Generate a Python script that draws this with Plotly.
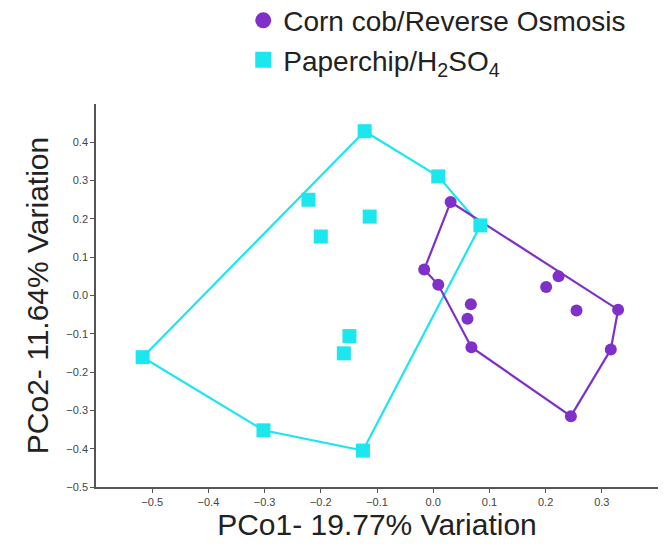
import plotly.graph_objects as go

# PCoA scores, Corn cob / Reverse Osmosis samples
corn_x = [0.031, -0.016, 0.009, 0.223, 0.201, 0.255, 0.329, 0.067, 0.061, 0.068, 0.316, 0.245]
corn_y = [0.244, 0.068, 0.028, 0.050, 0.022, -0.039, -0.037, -0.023, -0.061, -0.135, -0.141, -0.315]
# outline vertices (indices into the corn arrays), closed polygon
corn_outline = [0, 6, 10, 11, 9, 2, 1, 0]

# PCoA scores, Paperchip / H2SO4 samples
paper_x = [-0.517, -0.302, -0.125, -0.122, -0.222, -0.200, -0.113, -0.149, -0.159, 0.009, 0.084]
paper_y = [-0.161, -0.352, -0.405, 0.429, 0.250, 0.154, 0.206, -0.106, -0.151, 0.311, 0.183]
paper_outline = [3, 9, 10, 2, 1, 0, 3]

x_ticks = [-0.5, -0.4, -0.3, -0.2, -0.1, 0.0, 0.1, 0.2, 0.3]
y_ticks = [-0.5, -0.4, -0.3, -0.2, -0.1, 0.0, 0.1, 0.2, 0.3, 0.4]

corn_name = "Corn cob/Reverse Osmosis"
paper_name = "Paperchip/H<sub>2</sub>SO<sub>4</sub>"

PURPLE = "#7E30C8"
CYAN = "#1CE6EE"
FONT = "Liberation Sans, Arial, sans-serif"

fig = go.Figure()

# group outlines
fig.add_trace(go.Scatter(
    x=[paper_x[i] for i in paper_outline], y=[paper_y[i] for i in paper_outline],
    mode="lines", line=dict(color=CYAN, width=2.2), showlegend=False, hoverinfo="skip"))
fig.add_trace(go.Scatter(
    x=[corn_x[i] for i in corn_outline], y=[corn_y[i] for i in corn_outline],
    mode="lines", line=dict(color=PURPLE, width=2.2), showlegend=False, hoverinfo="skip"))

# sample points
fig.add_trace(go.Scatter(
    x=corn_x, y=corn_y, mode="markers", name=corn_name, showlegend=False,
    marker=dict(symbol="circle", size=12, color=PURPLE)))
fig.add_trace(go.Scatter(
    x=paper_x, y=paper_y, mode="markers", name=paper_name, showlegend=False,
    marker=dict(symbol="square", size=14, color=CYAN)))

# legend entries with larger symbols
fig.add_trace(go.Scatter(
    x=[None], y=[None], mode="markers", name=corn_name, legendgroup="a",
    marker=dict(symbol="circle", size=16, color=PURPLE)))
fig.add_trace(go.Scatter(
    x=[None], y=[None], mode="markers", name=paper_name, legendgroup="b",
    marker=dict(symbol="square", size=16, color=CYAN)))

axis_common = dict(
    showline=True, linecolor="#555555", linewidth=1.5, mirror=False,
    showgrid=False, zeroline=False,
    ticks="outside", ticklen=4, tickwidth=1, tickcolor="#555555",
    tickfont=dict(family=FONT, size=11, color="#444444"),
    tickformat=".1f",
)

fig.update_layout(
    width=663, height=550,
    margin=dict(l=96, r=5, t=104, b=63, autoexpand=False),
    paper_bgcolor="white", plot_bgcolor="white",
    font=dict(family=FONT),
    xaxis=dict(range=[-0.6, 0.4], tickvals=x_ticks,
               title=dict(text="PCo1- 19.77% Variation", font=dict(family=FONT, size=30, color="#222222"),
                          standoff=2),
               **axis_common),
    yaxis=dict(range=[-0.5, 0.5], tickvals=y_ticks,
               title=dict(text="PCo2- 11.64% Variation", font=dict(family=FONT, size=30, color="#222222"),
                          standoff=9),
               **axis_common),
    legend=dict(x=0.262, y=1.283, xanchor="left", yanchor="top",
                font=dict(family=FONT, size=28, color="#222222"),
                bgcolor="rgba(0,0,0,0)", tracegroupgap=0, traceorder="normal",
                itemsizing="trace"),
)

fig.write_html("out.html")
